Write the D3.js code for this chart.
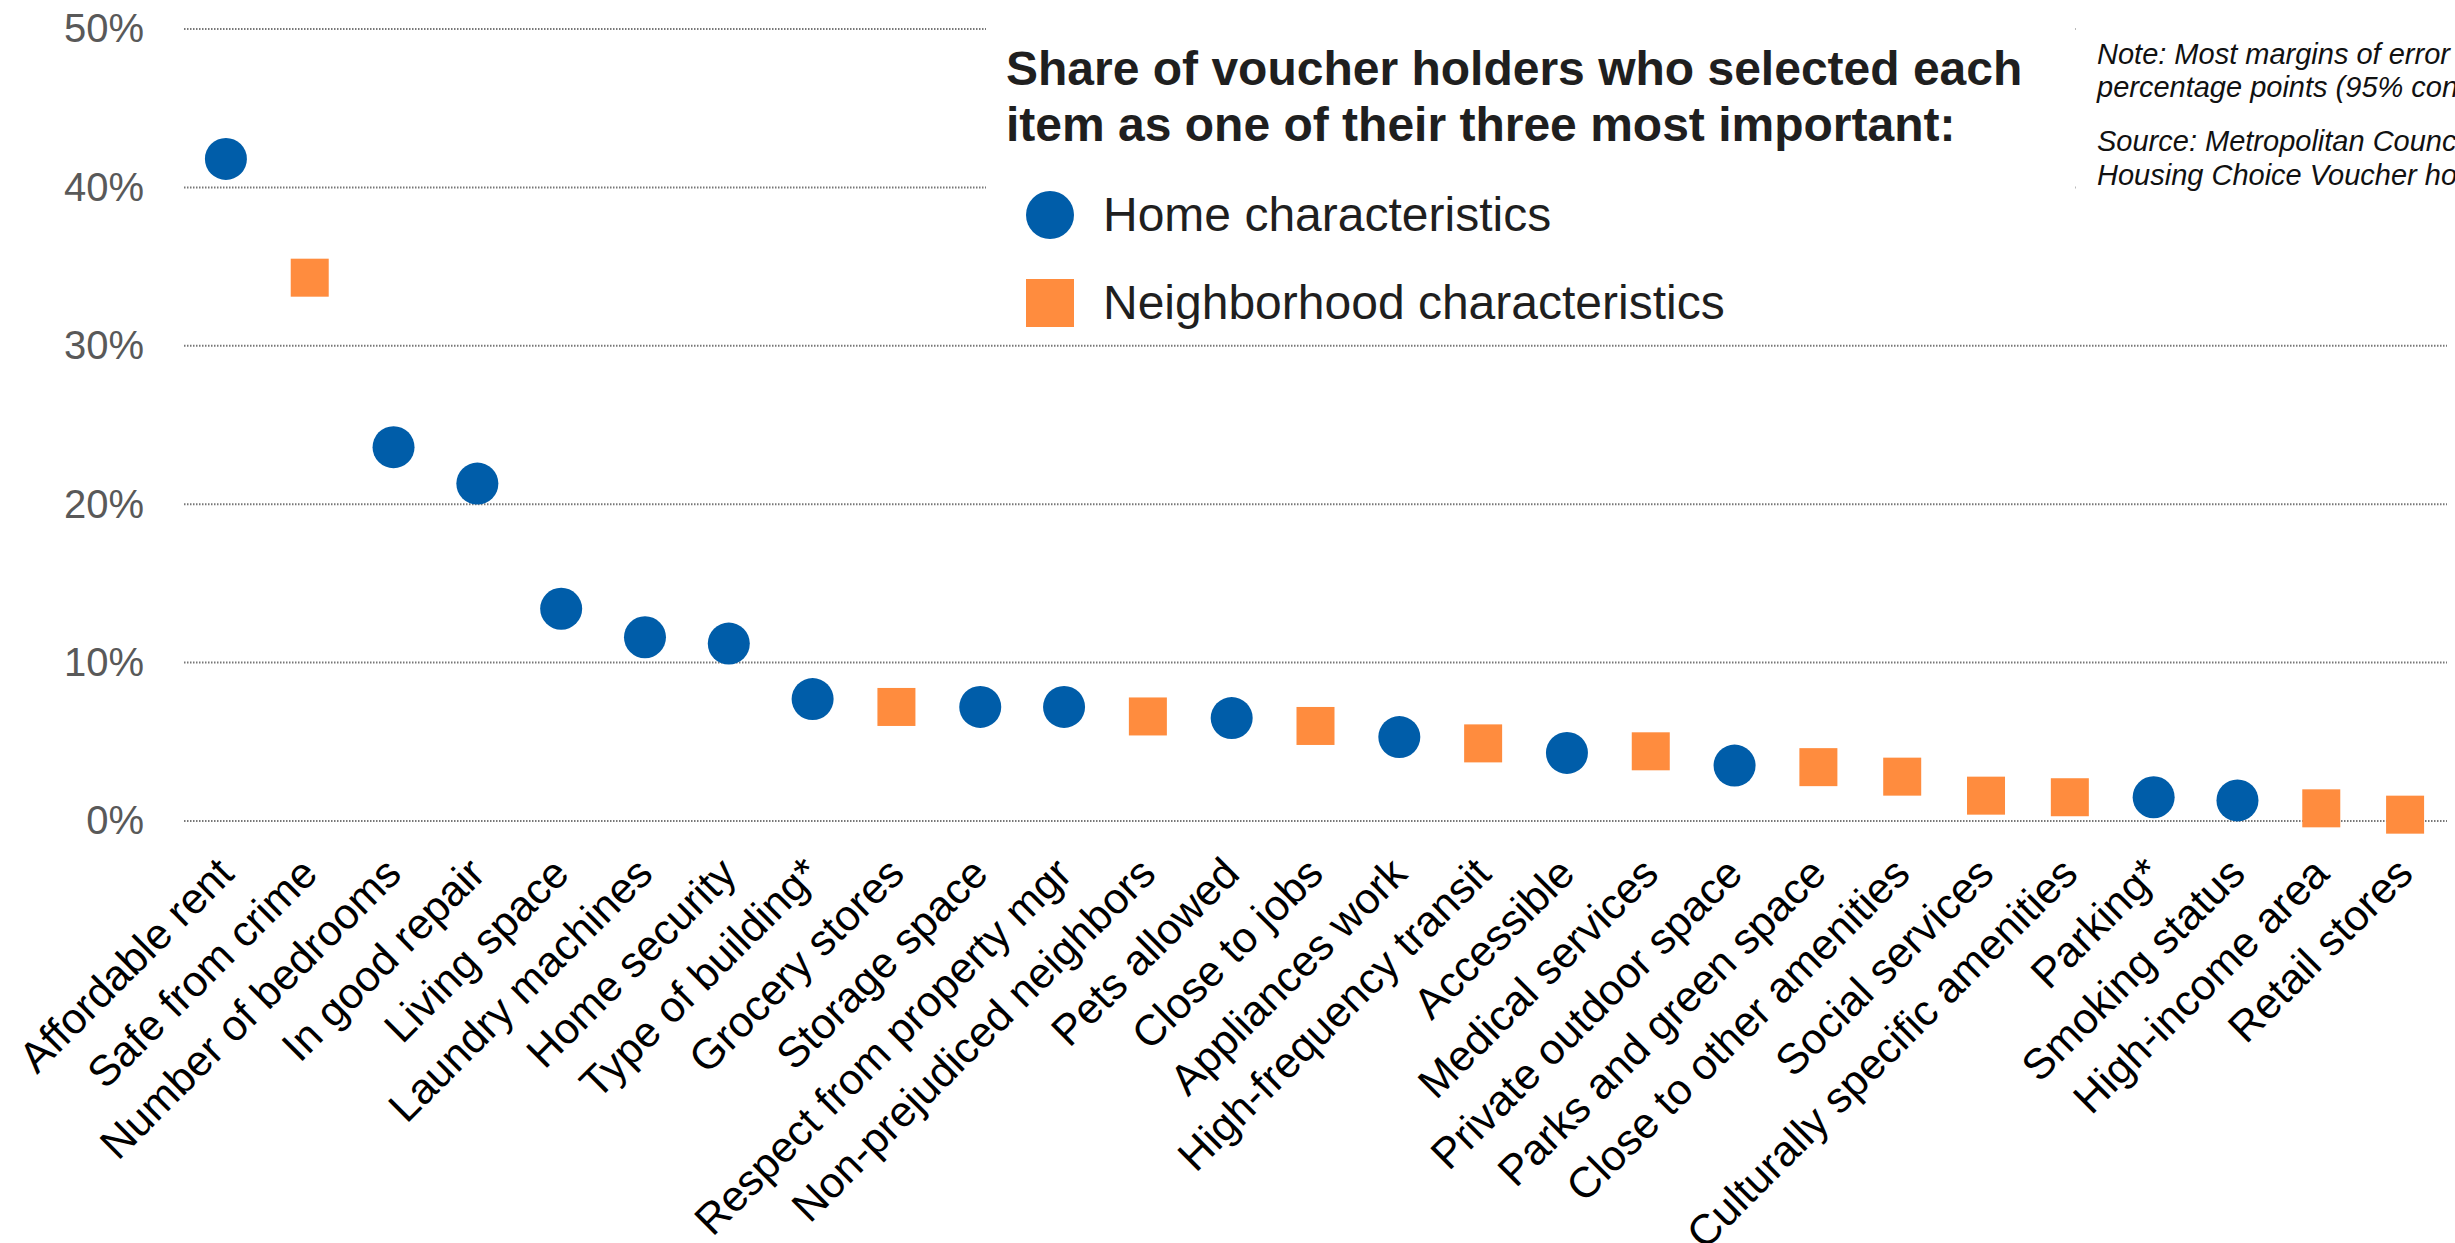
<!DOCTYPE html>
<html>
  <head>
    <meta charset="utf-8">
    <title>Voucher holder priorities</title>
    <script src="https://d3js.org/d3.v7.min.js"></script>
    <style>
      body { margin: 0; background: #fff; }
      text { font-family: "Liberation Sans", Arial, sans-serif; }
    </style>
  </head>
  <body>
    <script>
      var width = 2455;
      var height = 1243;

      var categories = [
        "Affordable rent", "Safe from crime", "Number of bedrooms", "In good repair",
        "Living space", "Laundry machines", "Home security", "Type of building*",
        "Grocery stores", "Storage space", "Respect from property mgr",
        "Non-prejudiced neighbors", "Pets allowed", "Close to jobs", "Appliances work",
        "High-frequency transit", "Accessible", "Medical services", "Private outdoor space",
        "Parks and green space", "Close to other amenities", "Social services",
        "Culturally specific amenities", "Parking*", "Smoking status", "High-income area",
        "Retail stores"
      ];
      // "home" = home characteristics, "hood" = neighborhood characteristics
      var groups = [
        "home", "hood", "home", "home", "home", "home", "home", "home",
        "hood", "home", "home", "hood", "home", "hood", "home", "hood",
        "home", "hood", "home", "hood", "hood", "hood", "hood", "home",
        "home", "hood", "hood"
      ];
      var shares = [
        41.8, 34.3, 23.6, 21.3, 13.4, 11.6, 11.2, 7.7, 7.2, 7.2, 7.2,
        6.6, 6.5, 6.0, 5.3, 4.9, 4.3, 4.4, 3.5, 3.4, 2.8, 1.6,
        1.5, 1.5, 1.3, 0.8, 0.4
      ];
      var yTicks = [0, 10, 20, 30, 40, 50];
      var legendLabels = ["Home characteristics", "Neighborhood characteristics"];
      var legendGroups = ["home", "hood"];
      var titleLines = [
        "Share of voucher holders who selected each",
        "item as one of their three most important:"
      ];
      var noteLines = [
        "Note: Most margins of error",
        "percentage points (95% confidence)",
        "Source: Metropolitan Council",
        "Housing Choice Voucher holders"
      ];

      var colors = { home: "#005DA9", hood: "#FF8C3E" };

      var data = categories.map(function(c, i) {
        return { name: c, group: groups[i], value: shares[i] };
      });

      var xScale = d3.scaleBand()
          .domain(categories)
          .range([184, 2447]);

      var yScale = d3.scaleLinear()
          .domain([0, 50])
          .range([821, 29]);

      var svg = d3.select("body")
        .append("svg")
          .attr("width", width)
          .attr("height", height);

      // grid lines
      svg.append("g")
          .classed("grid", true)
        .selectAll("line")
        .data(yTicks)
        .enter()
        .append("line")
          .attr("x1", 184)
          .attr("x2", 2447)
          .attr("y1", function(d) { return yScale(d); })
          .attr("y2", function(d) { return yScale(d); })
          .attr("stroke", "#777")
          .attr("stroke-width", 2)
          .attr("stroke-dasharray", "1.5,1.5");

      // y axis labels
      var yAxis = d3.axisLeft(yScale)
          .tickValues(yTicks)
          .tickFormat(function(d) { return d + "%"; })
          .tickSize(0)
          .tickPadding(0);

      var yAxisG = svg.append("g")
          .attr("transform", "translate(144,0)")
          .call(yAxis);
      yAxisG.select(".domain").remove();
      yAxisG.selectAll("text")
          .attr("font-size", 40)
          .attr("fill", "#595959")
          .attr("font-family", "'Liberation Sans', Arial, sans-serif");

      // white text boxes covering the top grid lines
      svg.append("rect")
          .attr("x", 986).attr("y", 0)
          .attr("width", 1089).attr("height", 332)
          .attr("fill", "#fff");
      svg.append("rect")
          .attr("x", 2077).attr("y", 0)
          .attr("width", 378).attr("height", 332)
          .attr("fill", "#fff");

      // x axis labels
      svg.append("g")
          .classed("x-labels", true)
        .selectAll("text")
        .data(categories)
        .enter()
        .append("text")
          .attr("transform", function(d) {
            var x = xScale(d) + xScale.bandwidth() / 2 + 10;
            return "translate(" + x + ",876) rotate(-45)";
          })
          .attr("text-anchor", "end")
          .attr("font-size", 43)
          .attr("fill", "#000")
          .text(function(d) { return d; });

      // markers
      var marks = svg.append("g").classed("marks", true);
      function cx(d) { return xScale(d.name) + xScale.bandwidth() / 2; }

      marks.selectAll("circle")
        .data(data.filter(function(d) { return d.group === "home"; }))
        .enter()
        .append("circle")
          .attr("cx", cx)
          .attr("cy", function(d) { return yScale(d.value); })
          .attr("r", 21)
          .attr("fill", colors.home);

      marks.selectAll("rect")
        .data(data.filter(function(d) { return d.group === "hood"; }))
        .enter()
        .append("rect")
          .attr("x", function(d) { return cx(d) - 19; })
          .attr("y", function(d) { return yScale(d.value) - 19; })
          .attr("width", 38)
          .attr("height", 38)
          .attr("fill", colors.hood);

      // title
      svg.append("g")
        .selectAll("text")
        .data(titleLines)
        .enter()
        .append("text")
          .attr("x", 1006)
          .attr("y", function(d, i) { return 85 + i * 56; })
          .attr("font-size", 48)
          .attr("font-weight", "bold")
          .attr("fill", "#1f1f1f")
          .text(function(d) { return d; });

      // legend
      var legend = svg.append("g")
        .selectAll("g")
        .data(legendLabels)
        .enter()
        .append("g")
          .attr("transform", function(d, i) { return "translate(1050," + (215 + i * 88) + ")"; });

      legend.each(function(d, i) {
        var g = d3.select(this);
        if (legendGroups[i] === "home") {
          g.append("circle").attr("r", 24).attr("fill", colors.home);
        } else {
          g.append("rect").attr("x", -24).attr("y", -24)
            .attr("width", 48).attr("height", 48).attr("fill", colors.hood);
        }
        g.append("text")
          .attr("x", 53)
          .attr("y", 16)
          .attr("font-size", 48)
          .attr("fill", "#1f1f1f")
          .text(d);
      });

      // note and source
      svg.append("g")
        .selectAll("text")
        .data(noteLines)
        .enter()
        .append("text")
          .attr("x", 2097)
          .attr("y", function(d, i) { return [64, 97, 151, 185][i]; })
          .attr("font-size", 29)
          .attr("font-style", "italic")
          .attr("fill", "#111")
          .text(function(d) { return d; });
    </script>
  </body>
</html>
